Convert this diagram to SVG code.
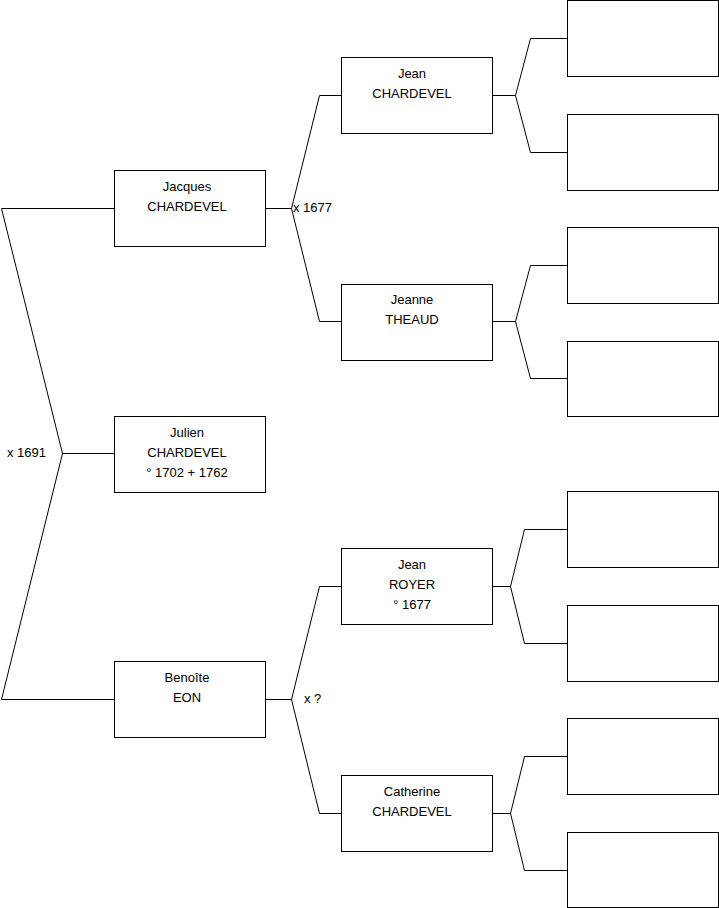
<svg xmlns="http://www.w3.org/2000/svg" width="719" height="908" viewBox="0 0 719 908">
<style>
.b{fill:#fff;stroke:#000;stroke-width:1}
.c{fill:none;stroke:#000;stroke-width:1}
text{font-family:"Liberation Sans",Arial,sans-serif;font-size:13px;fill:#000}
.m{text-anchor:middle}
</style>
<rect width="719" height="908" fill="#fff"/>
<g id="connectors">
<polyline class="c" points="114,208.5 1.5,208.5 62.5,453.5 1.5,699.5 114,699.5"/>
<line class="c" x1="62.5" y1="453.5" x2="114" y2="453.5"/>
<polyline class="c" points="265,208.5 291.5,208.5"/>
<polyline class="c" points="341,95.5 319.5,95.5 291.5,208.5 319.5,321.5 341,321.5"/>
<polyline class="c" points="265,699.5 291.5,699.5"/>
<polyline class="c" points="341,586.5 319.5,586.5 291.5,699.5 319.5,813.5 341,813.5"/>
<polyline class="c" points="492,95.5 515.5,95.5"/>
<polyline class="c" points="567,38.5 530.5,38.5 515.5,95.5 530.5,152.5 567,152.5"/>
<polyline class="c" points="492,321.5 515.5,321.5"/>
<polyline class="c" points="567,265.5 530.5,265.5 515.5,321.5 530.5,378.5 567,378.5"/>
<polyline class="c" points="492,586.5 510.5,586.5"/>
<polyline class="c" points="567,529.5 524.5,529.5 510.5,586.5 524.5,643.5 567,643.5"/>
<polyline class="c" points="492,813.5 510.5,813.5"/>
<polyline class="c" points="567,756.5 524.5,756.5 510.5,813.5 524.5,870.5 567,870.5"/>
<text x="7" y="457">x 1691</text>
<text x="293" y="212">x 1677</text>
<text x="304" y="703">x ?</text>
</g>
<g id="jacques"><rect class="b" x="114.5" y="170.5" width="151" height="76"/><text class="m" x="187" y="191">Jacques</text><text class="m" x="187" y="211">CHARDEVEL</text></g>
<g id="julien"><rect class="b" x="114.5" y="416.5" width="151" height="76"/><text class="m" x="187" y="437">Julien</text><text class="m" x="187" y="457">CHARDEVEL</text><text class="m" x="187" y="477">° 1702 + 1762</text></g>
<g id="benoite"><rect class="b" x="114.5" y="661.5" width="151" height="76"/><text class="m" x="187" y="682">Benoîte</text><text class="m" x="187" y="702">EON</text></g>
<g id="jean-chardevel"><rect class="b" x="341.5" y="57.5" width="151" height="76"/><text class="m" x="412" y="78">Jean</text><text class="m" x="412" y="98">CHARDEVEL</text></g>
<g id="jeanne"><rect class="b" x="341.5" y="284.5" width="151" height="76"/><text class="m" x="412" y="304">Jeanne</text><text class="m" x="412" y="324">THEAUD</text></g>
<g id="jean-royer"><rect class="b" x="341.5" y="548.5" width="151" height="76"/><text class="m" x="412" y="569">Jean</text><text class="m" x="412" y="589">ROYER</text><text class="m" x="412" y="609">° 1677</text></g>
<g id="catherine"><rect class="b" x="341.5" y="775.5" width="151" height="76"/><text class="m" x="412" y="796">Catherine</text><text class="m" x="412" y="816">CHARDEVEL</text></g>
<g id="p1"><rect class="b" x="567.5" y="0.5" width="151" height="76"/></g>
<g id="p2"><rect class="b" x="567.5" y="114.5" width="151" height="76"/></g>
<g id="p3"><rect class="b" x="567.5" y="227.5" width="151" height="76"/></g>
<g id="p4"><rect class="b" x="567.5" y="341.5" width="151" height="75"/></g>
<g id="p5"><rect class="b" x="567.5" y="491.5" width="151" height="76"/></g>
<g id="p6"><rect class="b" x="567.5" y="605.5" width="151" height="76"/></g>
<g id="p7"><rect class="b" x="567.5" y="718.5" width="151" height="76"/></g>
<g id="p8"><rect class="b" x="567.5" y="832.5" width="151" height="75"/></g>
</svg>
